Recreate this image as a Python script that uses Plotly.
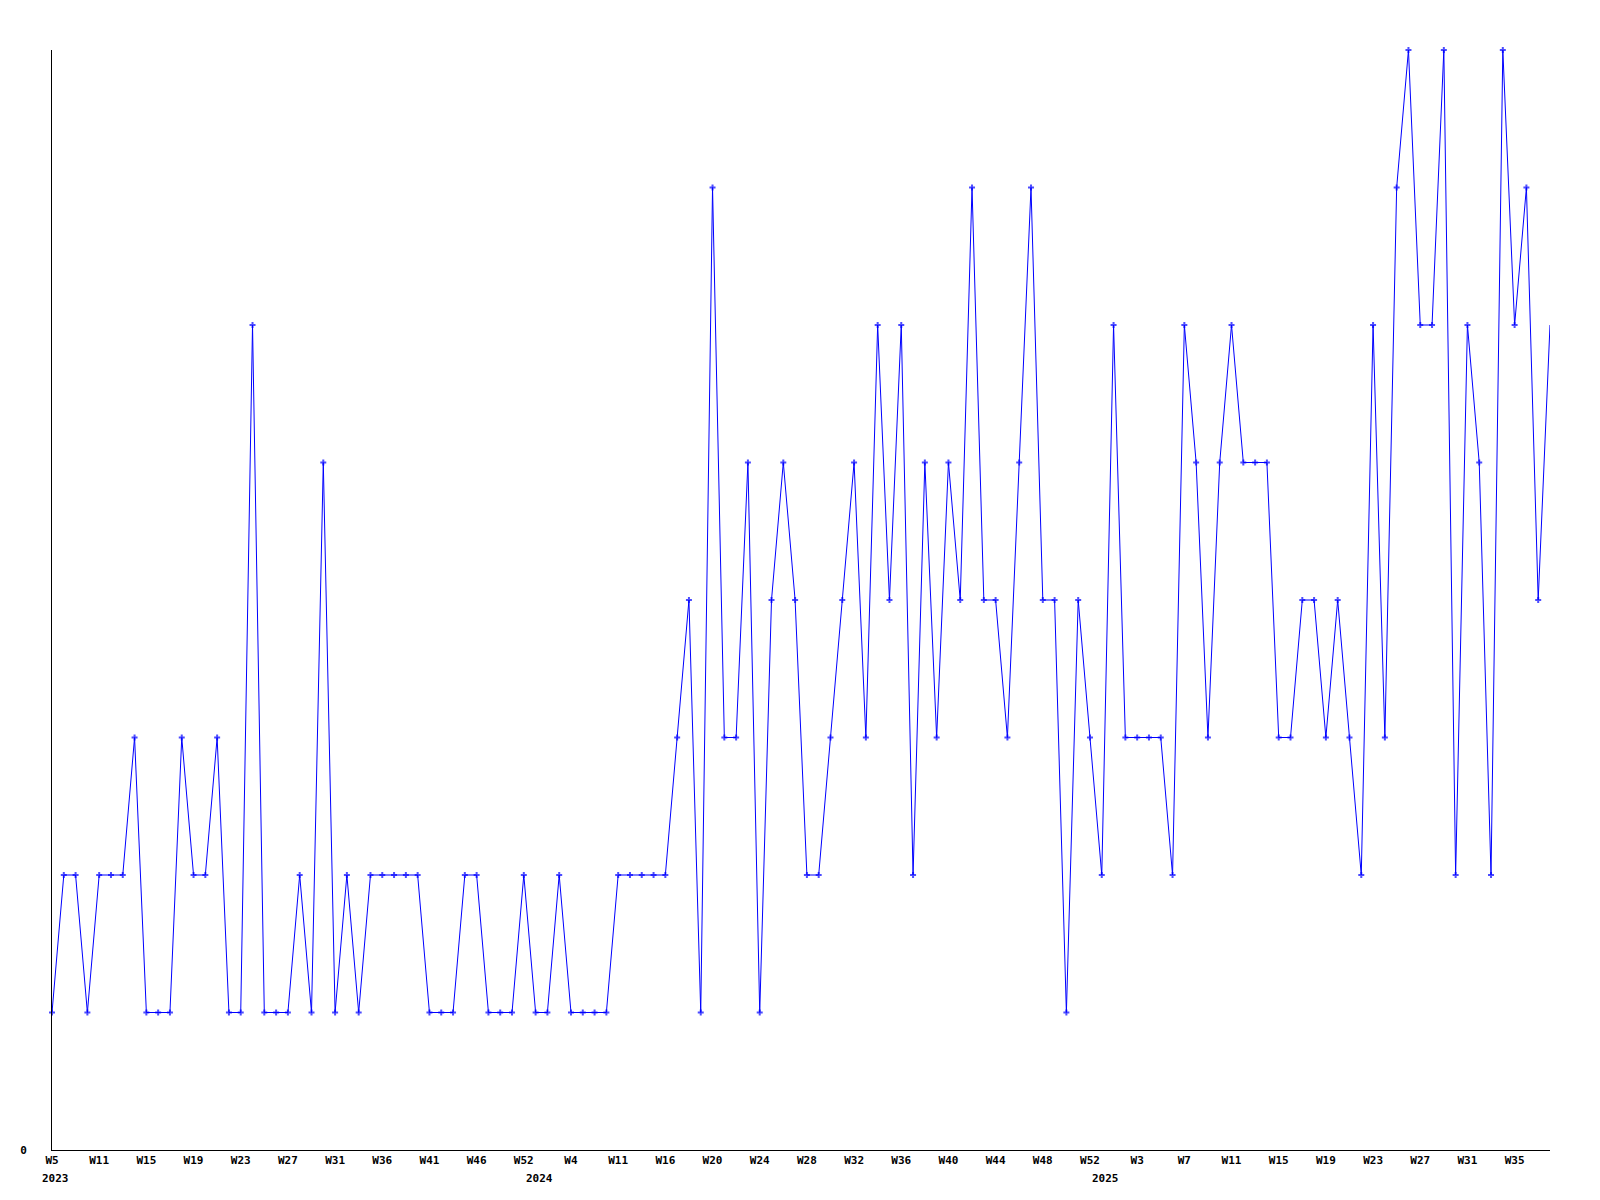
import plotly.graph_objects as go

# Weekly counts (one value per data point, in order)
values = [
    1, 2, 2, 1, 2, 2, 2, 3, 1, 1, 1, 3, 2, 2, 3, 1, 1, 6, 1, 1,
    1, 2, 1, 5, 1, 2, 1, 2, 2, 2, 2, 2, 1, 1, 1, 2, 2, 1, 1, 1,
    2, 1, 1, 2, 1, 1, 1, 1, 2, 2, 2, 2, 2, 3, 4, 1, 7, 3, 3, 5,
    1, 4, 5, 4, 2, 2, 3, 4, 5, 3, 6, 4, 6, 2, 5, 3, 5, 4, 7, 4,
    4, 3, 5, 7, 4, 4, 1, 4, 3, 2, 6, 3, 3, 3, 3, 2, 6, 5, 3, 5,
    6, 5, 5, 5, 3, 3, 4, 4, 3, 4, 3, 2, 6, 3, 7, 8, 6, 6, 8, 2,
    6, 5, 2, 8, 6, 7, 4, 6,
]

# Week tick labels, shown every 4th point
week_labels = [
    "W5", "W11", "W15", "W19", "W23", "W27", "W31", "W36", "W41", "W46", "W52",
    "W4", "W11", "W16", "W20", "W24", "W28", "W32", "W36", "W40", "W44", "W48", "W52",
    "W3", "W7", "W11", "W15", "W19", "W23", "W27", "W31", "W35",
]
label_step = 4

# Year labels and the data point where each year begins
years = ["2023", "2024", "2025"]
year_start_index = [0, 41, 89]

n = len(values)
x = list(range(n))
FONT = "DejaVu Sans Mono"

marker_sizes = [5] * (n - 1) + [0]

fig = go.Figure()
fig.add_trace(go.Scatter(
    x=x, y=values, mode="lines+markers",
    line=dict(color="#0000FF", width=1),
    marker=dict(symbol="cross", size=marker_sizes, color="#0000FF", line=dict(width=0)),
    cliponaxis=False, showlegend=False, hoverinfo="x+y",
))

for yr, idx in zip(years, year_start_index):
    fig.add_annotation(
        x=idx + 0.3, y=0, xref="x", yref="paper",
        text=yr, showarrow=False, yanchor="top", xanchor="center",
        yshift=-20,
        font=dict(family=FONT, size=11, color="black", weight="bold"),
    )

fig.update_layout(
    width=1592, height=1192,
    margin=dict(l=42, r=50, t=42, b=50),
    plot_bgcolor="white", paper_bgcolor="white",
    xaxis=dict(
        range=[0, n - 1], showgrid=False, zeroline=False,
        showline=True, linecolor="black", linewidth=1,
        tickvals=[i * label_step for i in range(len(week_labels))],
        ticktext=week_labels, ticks="", tickangle=0,
        tickfont=dict(family=FONT, size=11, color="black", weight="bold"),
    ),
    yaxis=dict(
        range=[0, 8], showgrid=False, zeroline=False,
        showline=True, linecolor="black", linewidth=1,
        tickvals=[0], ticktext=["0"], ticks="",
        ticklabelstandoff=22,
        tickfont=dict(family=FONT, size=11, color="black", weight="bold"),
    ),
)

fig.write_html("out.html")
